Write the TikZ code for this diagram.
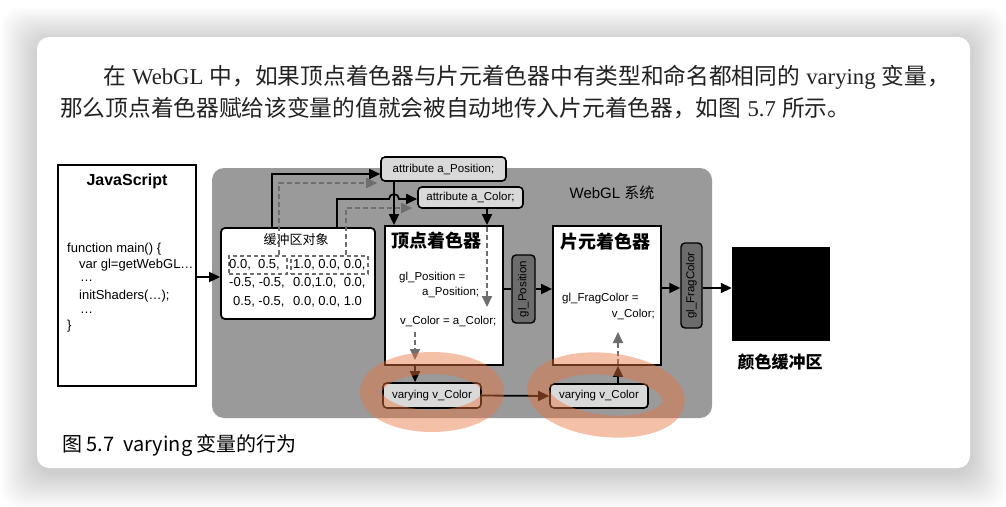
\documentclass[tikz,border=0pt]{standalone}
\usepackage{fontspec}
\setmainfont{Liberation Sans}
\newfontfamily\cjk{Noto Sans CJK SC}
\newfontfamily\serifx{Liberation Serif}
\usetikzlibrary{arrows.meta,calc}

\definecolor{sysgray}{HTML}{9A9A9A}
\definecolor{tagfill}{HTML}{D9D9D9}
\definecolor{pillfill}{HTML}{6C6C6C}
\definecolor{dashgray}{HTML}{6E6E6E}
\definecolor{hilite}{HTML}{E8743F}
\definecolor{paratext}{HTML}{222222}

\newcommand\fpara{\fontsize{22.7}{26}\selectfont}
\newcommand\fcode{\fontsize{11.5}{14}\selectfont}
\newcommand\fjs{\fontsize{13}{15}\selectfont}
\newcommand\fnum{\fontsize{13}{15}\selectfont}

\tikzset{
  frame/.style={draw=black, line width=1.8pt, fill=white, inner sep=0pt},
  tag/.style={draw=black, line width=1.6pt, fill=tagfill, rounded corners=4pt, inner sep=0pt, font=\fcode},
  pill/.style={draw=black, line width=1.4pt, fill=pillfill, rounded corners=4pt, inner sep=0pt, font=\fcode},
  arr/.style={draw=black, line width=1.8pt, -{Triangle[length=11pt,width=10pt]}},
  link/.style={draw=black, line width=1.8pt},
  darr/.style={draw=dashgray, line width=1.8pt, dash pattern=on 5pt off 3pt, -{Triangle[length=11pt,width=10pt]}},
  dbox/.style={draw=dashgray, line width=1.5pt, dash pattern=on 4pt off 3pt, inner sep=0pt},
  txt/.style={inner sep=0pt, font=\fcode},
  hlring/.style={draw=hilite, line width=22pt, opacity=0.45}
}

\begin{document}
\begin{tikzpicture}[x=1pt,y=-1pt]
\useasboundingbox (0,0) rectangle (1006,506);
\fill[white] (0,0) rectangle (1006,506);

% soft shadow under the page card
\foreach \i in {1,...,24}{
  \fill[black, opacity=0.009, rounded corners=20pt]
    (37-\i*1.5, 41-\i*1.4) rectangle (970+\i*1.5, 473+\i*1.5);
}
\fill[white, rounded corners=12pt] (37,37) rectangle (970,468);

% paragraph
\node[anchor=base west, inner sep=0pt, font=\fpara, text=paratext] (p1) at (103,84)
  {{\cjk 在} {\serifx WebGL} {\cjk 中，如果顶点着色器与片元着色器中有类型和命名都相同的} {\serifx varying} {\cjk 变量，}};
\node[anchor=base west, inner sep=0pt, font=\fpara, text=paratext] (p2) at (60,116)
  {{\cjk 那么顶点着色器赋给该变量的值就会被自动地传入片元着色器，如图} {\serifx 5.7} {\cjk 所示。}};

% WebGL system panel
\fill[sysgray, rounded corners=12pt] (212,168) rectangle (712,418);
\node[inner sep=0pt, font=\fontsize{15}{17}\selectfont] (sys) at (612,193) {WebGL {\cjk 系统}};

% JavaScript
\node[frame, minimum width=138pt, minimum height=221pt] (js) at (127,275.5) {};
\node[inner sep=0pt, font=\fontsize{16}{18}\selectfont\bfseries] (jst) at (127,181) {JavaScript};
\node[txt, font=\fjs, anchor=west] (c1) at (67,249) {function main() \{};
\node[txt, font=\fjs, anchor=west] (c2) at (79,265) {var gl=getWebGL…};
\node[txt, font=\fjs, anchor=west] (c3) at (80,281) {…};
\node[txt, font=\fjs, anchor=west] (c4) at (79,296) {initShaders(…);};
\node[txt, font=\fjs, anchor=west] (c5) at (80,313) {…};
\node[txt, font=\fjs, anchor=west] (c6) at (67,326) {\}};

% buffer object
\node[frame, rounded corners=4pt, minimum width=154pt, minimum height=91pt] (buf) at (298,273.5) {};
\node[inner sep=0pt, font=\fontsize{13}{15}\selectfont\cjk] (buft) at (296,240) {缓冲区对象};
\node[dbox, minimum width=58pt, minimum height=18pt] (d1) at (258,265) {};
\node[dbox, minimum width=77pt, minimum height=18pt] (d2) at (329.5,265) {};
\node[txt, font=\fnum, anchor=west] (r1a) at (229,265) {0.0,\ \ 0.5,};
\node[txt, font=\fnum, anchor=west] (r1b) at (293,265) {1.0, 0.0, 0.0,};
\node[txt, font=\fnum, anchor=west] (r2a) at (229,283) {-0.5, -0.5,};
\node[txt, font=\fnum, anchor=west] (r2b) at (293,283) {0.0,1.0,\ \ 0.0,};
\node[txt, font=\fnum, anchor=west] (r3a) at (233,302) {0.5, -0.5,};
\node[txt, font=\fnum, anchor=west] (r3b) at (293,302) {0.0, 0.0, 1.0};

% attribute tags
\node[tag, minimum width=125pt, minimum height=24pt] (apos) at (443.5,169) {attribute a\_Position;};
\node[tag, minimum width=105pt, minimum height=21pt] (acol) at (470.5,197.5) {attribute a\_Color;};

% shaders
\node[frame, minimum width=118pt, minimum height=139pt] (vs) at (444,295.5) {};
\node[inner sep=0pt, anchor=west, font=\fontsize{18}{20}\selectfont\cjk\bfseries] (vst) at (391,241) {顶点着色器};
\node[txt, anchor=west] (v1) at (399,278) {gl\_Position =};
\node[txt, anchor=west] (v2) at (422,292) {a\_Position;};
\node[txt, anchor=west] (v3) at (400,321) {v\_Color = a\_Color;};

\node[frame, minimum width=108pt, minimum height=139pt] (fs) at (607,295.5) {};
\node[inner sep=0pt, anchor=west, font=\fontsize{18}{20}\selectfont\cjk\bfseries] (fst) at (560,242) {片元着色器};
\node[txt, anchor=west] (f1) at (562,299) {gl\_FragColor =};
\node[txt, anchor=east] (f2) at (655,314) {v\_Color;};

% varying tags
\node[tag, minimum width=98pt, minimum height=25pt] (var1) at (432,395.5) {varying v\_Color};
\node[tag, minimum width=98pt, minimum height=24pt] (var2) at (599,396) {varying v\_Color};

% built-in outputs (rotated: north is the left side, south the right side)
\node[pill, rotate=90, minimum width=68pt, minimum height=23pt] (glp) at (523.5,289) {gl\_Position};
\node[pill, rotate=90, minimum width=85pt, minimum height=21pt] (glf) at (691.5,285.5) {gl\_FragColor};

% colour buffer
\node[fill=black, draw=black, inner sep=0pt, minimum width=97pt, minimum height=93pt] (cbuf) at (780.5,293.5) {};
\node[inner sep=0pt, font=\fontsize{17}{19}\selectfont\cjk\bfseries] (cbt) at (780,362) {颜色缓冲区};

% caption
\node[inner sep=0pt, anchor=west, font=\fontsize{20}{22}\selectfont\cjk] (cap) at (62,446) {图 5.7\ \ varying 变量的行为};

% bend points
\coordinate (h1) at (272,174);
\coordinate (h2) at (279,183);
\coordinate (h3) at (337,199);
\coordinate (h4) at (346,208);
\coordinate (vx1) at (394,0);
\coordinate (vx2) at (487,0);
\coordinate (vx3) at (415,0);
\coordinate (vx4) at (618,0);
\coordinate (hy) at (0,288);
\coordinate (hj) at (0,277);

% JavaScript -> buffer
\draw[arr] (js.east |- hj) -- (buf.west |- hj);

% buffer -> attributes
\draw[arr] (buf.north -| h1) |- (apos.west |- h1);
\draw[darr] (d1.north -| h2) |- ($(apos.west |- h2)+(-3,0)$);
\draw[arr] (buf.north -| h3) |- (389,199) arc (180:360:5) -- (acol.west |- h3);
\draw[darr] (d2.north -| h4) |- ($(acol.west |- h4)+(-5,0)$);

% attributes -> vertex shader
\draw[arr] (apos.south -| vx1) -- (vs.north -| vx1);
\draw[arr] (acol.south -| vx2) -- (vs.north -| vx2);
\draw[darr] ($(vs.north -| vx2)+(0,2)$) -- (487,307);

% vertex shader -> varying -> fragment shader
\draw[darr] (415,332) -- (415,360);
\draw[arr] (vs.south -| vx3) -- (var1.north -| vx3);
\draw[arr] (var1.east) -- (var2.west);
\draw[arr] (var2.north -| vx4) -- (fs.south -| vx4);
\draw[darr] ($(fs.south -| vx4)+(0,-2)$) -- (618,332);

% shader outputs
\draw[link] (vs.east |- glp) -- (glp.north);
\draw[arr] (glp.south) -- (fs.west |- glp);
\draw[arr] (fs.east |- hy) -- (glf.north |- hy);
\draw[arr] (glf.south |- hy) -- (cbuf.west |- hy);

% highlighter rings
\draw[hlring] (432,392) ellipse [x radius=61, y radius=29];
\draw[hlring, rotate around={-6:(606,395)}] (606,395) ellipse [x radius=68, y radius=31];
\end{tikzpicture}
\end{document}
